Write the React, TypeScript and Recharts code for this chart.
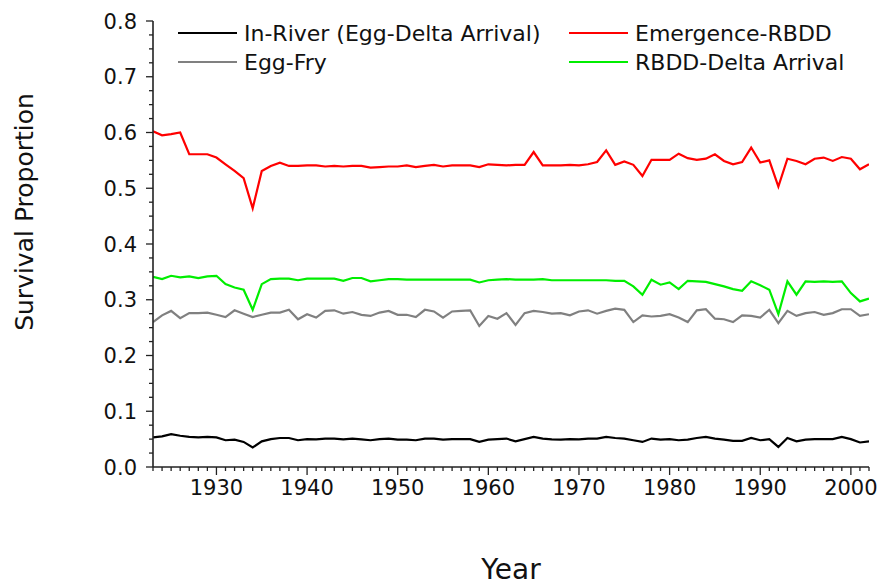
import React from 'react';
import { LineChart, Line, XAxis, YAxis, Legend } from 'recharts';

const YEARS = [
  1923, 1924, 1925, 1926, 1927, 1928, 1929, 1930, 1931, 1932,
  1933, 1934, 1935, 1936, 1937, 1938, 1939, 1940, 1941, 1942,
  1943, 1944, 1945, 1946, 1947, 1948, 1949, 1950, 1951, 1952,
  1953, 1954, 1955, 1956, 1957, 1958, 1959, 1960, 1961, 1962,
  1963, 1964, 1965, 1966, 1967, 1968, 1969, 1970, 1971, 1972,
  1973, 1974, 1975, 1976, 1977, 1978, 1979, 1980, 1981, 1982,
  1983, 1984, 1985, 1986, 1987, 1988, 1989, 1990, 1991, 1992,
  1993, 1994, 1995, 1996, 1997, 1998, 1999, 2000, 2001, 2002,
];

const IN_RIVER = [
  0.053, 0.055, 0.059, 0.056, 0.054, 0.053, 0.054, 0.053, 0.048, 0.049,
  0.045, 0.035, 0.046, 0.050, 0.052, 0.052, 0.048, 0.050, 0.0495, 0.051,
  0.051, 0.0495, 0.051, 0.0495, 0.048, 0.050, 0.051, 0.049, 0.049, 0.048,
  0.051, 0.051, 0.049, 0.050, 0.050, 0.050, 0.045, 0.049, 0.050, 0.051,
  0.046, 0.050, 0.054, 0.051, 0.0495, 0.049, 0.050, 0.0495, 0.051, 0.051,
  0.054, 0.052, 0.051, 0.048, 0.045, 0.051, 0.049, 0.050, 0.048, 0.049,
  0.052, 0.054, 0.051, 0.049, 0.047, 0.047, 0.052, 0.048, 0.050, 0.036,
  0.052, 0.046, 0.049, 0.050, 0.050, 0.050, 0.054, 0.050, 0.044, 0.046,
];

const EGG_FRY = [
  0.260, 0.272, 0.280, 0.267, 0.276, 0.276, 0.277, 0.273, 0.269, 0.281,
  0.275, 0.269, 0.273, 0.277, 0.277, 0.282, 0.265, 0.274, 0.268, 0.280,
  0.281, 0.275, 0.278, 0.273, 0.271, 0.277, 0.280, 0.273, 0.273, 0.269,
  0.282, 0.279, 0.268, 0.279, 0.280, 0.281, 0.253, 0.271, 0.266, 0.276,
  0.255, 0.276, 0.280, 0.278, 0.275, 0.276, 0.272, 0.279, 0.281, 0.275,
  0.280, 0.284, 0.282, 0.260, 0.272, 0.270, 0.271, 0.274, 0.268, 0.260,
  0.281, 0.283, 0.266, 0.265, 0.260, 0.272, 0.271, 0.268, 0.282, 0.258,
  0.280, 0.271, 0.276, 0.278, 0.273, 0.276, 0.283, 0.283, 0.271, 0.274,
];

const EMERGENCE_RBDD = [
  0.602, 0.595, 0.597, 0.600, 0.561, 0.561, 0.561, 0.555, 0.543, 0.531,
  0.518, 0.464, 0.531, 0.540, 0.546, 0.540, 0.540, 0.541, 0.541, 0.539,
  0.540, 0.539, 0.540, 0.540, 0.537, 0.538, 0.539, 0.539, 0.541, 0.538,
  0.540, 0.542, 0.539, 0.541, 0.541, 0.541, 0.538, 0.543, 0.542, 0.541,
  0.542, 0.542, 0.565, 0.541, 0.541, 0.541, 0.542, 0.541, 0.543, 0.547,
  0.568, 0.542, 0.548, 0.542, 0.522, 0.551, 0.551, 0.551, 0.562, 0.554,
  0.551, 0.553, 0.561, 0.549, 0.543, 0.547, 0.573, 0.546, 0.550, 0.503,
  0.553, 0.549, 0.543, 0.553, 0.555, 0.549, 0.556, 0.553, 0.534, 0.543,
];

const RBDD_DELTA = [
  0.341, 0.337, 0.343, 0.340, 0.342, 0.339, 0.342, 0.343, 0.328, 0.322,
  0.318, 0.282, 0.328, 0.337, 0.338, 0.338, 0.335, 0.338, 0.338, 0.338,
  0.338, 0.334, 0.339, 0.339, 0.333, 0.335, 0.337, 0.337, 0.336, 0.336,
  0.336, 0.336, 0.336, 0.336, 0.336, 0.336, 0.331, 0.335, 0.336, 0.337,
  0.336, 0.336, 0.336, 0.337, 0.335, 0.335, 0.335, 0.335, 0.335, 0.335,
  0.335, 0.334, 0.334, 0.324, 0.309, 0.336, 0.327, 0.331, 0.319, 0.334,
  0.333, 0.332, 0.328, 0.324, 0.319, 0.316, 0.333, 0.326, 0.318, 0.274,
  0.333, 0.309, 0.333, 0.332, 0.333, 0.332, 0.333, 0.312, 0.297, 0.302,
];

const X_LABELS = [1930, 1940, 1950, 1960, 1970, 1980, 1990, 2000];
const Y_LABELS = [0, 0.1, 0.2, 0.3, 0.4, 0.5, 0.6, 0.7, 0.8];
const Y_MINOR_STEP = 0.025;

const SERIES = [
  { key: 'inRiver', name: 'In-River (Egg-Delta Arrival)', color: '#000000', values: IN_RIVER },
  { key: 'eggFry', name: 'Egg-Fry', color: '#808080', values: EGG_FRY },
  { key: 'emergence', name: 'Emergence-RBDD', color: '#ff0000', values: EMERGENCE_RBDD },
  { key: 'rbddDelta', name: 'RBDD-Delta Arrival', color: '#00ee00', values: RBDD_DELTA },
];

const data = YEARS.map((year, i) => {
  const row: any = { year };
  SERIES.forEach((s) => {
    row[s.key] = s.values[i];
  });
  return row;
});

const yTicks: number[] = [];
for (let i = 0; i < Y_LABELS.length; i++) {
  yTicks.push(Y_LABELS[i]);
  if (i < Y_LABELS.length - 1) {
    for (let k = 1; k < 4; k++) {
      yTicks.push(Math.round((Y_LABELS[i] + k * Y_MINOR_STEP) * 1000) / 1000);
    }
  }
}

const FONT = '"DejaVu Sans", "Liberation Sans", Arial, sans-serif';
const AXIS_COLOR = '#222';
const TEXT_COLOR = '#111';

const XTick = (props: any) => {
  const { x, y, payload } = props;
  const v = payload.value;
  const major = X_LABELS.includes(v);
  return (
    <g>
      <line x1={x} x2={x} y1={y} y2={y + (major ? 8 : 4)} stroke={AXIS_COLOR} strokeWidth={1.3} />
      {major && (
        <text x={x} y={y + 28} textAnchor="middle" fontFamily={FONT} fontSize={21} fill={TEXT_COLOR}>
          {v}
        </text>
      )}
    </g>
  );
};

const YTick = (props: any) => {
  const { x, y, payload } = props;
  const v = payload.value;
  const major = Y_LABELS.some((l) => Math.abs(l - v) < 1e-6);
  return (
    <g>
      <line x1={x - (major ? 7 : 4)} x2={x} y1={y} y2={y} stroke={AXIS_COLOR} strokeWidth={1.3} />
      {major && (
        <text x={x - 16} y={y} dy="0.36em" textAnchor="end" fontFamily={FONT} fontSize={21} fill={TEXT_COLOR}>
          {v.toFixed(1)}
        </text>
      )}
    </g>
  );
};

const YTitle = () => (
  <text
    x={33}
    y={212}
    transform="rotate(-90 33 212)"
    textAnchor="middle"
    fontFamily={FONT}
    fontSize={25}
    fill={TEXT_COLOR}
  >
    Survival Proportion
  </text>
);

const XTitle = () => (
  <text x={511} y={579} textAnchor="middle" fontFamily={FONT} fontSize={28} fill={TEXT_COLOR}>
    Year
  </text>
);

const LEGEND_POS = [
  { lx: 178, tx: 244, y: 33 },
  { lx: 178, tx: 244, y: 62 },
  { lx: 569, tx: 635, y: 33 },
  { lx: 569, tx: 635, y: 62 },
];

const renderLegend = () => (
  <svg width={884} height={80} style={{ display: 'block' }}>
    {SERIES.map((s, i) => {
      const p = LEGEND_POS[i];
      return (
        <g key={s.key}>
          <line x1={p.lx} x2={p.lx + 59} y1={p.y} y2={p.y} stroke={s.color} strokeWidth={2.2} />
          <text x={p.tx} y={p.y} dy="0.36em" fontFamily={FONT} fontSize={22} fill={TEXT_COLOR}>
            {s.name}
          </text>
        </g>
      );
    })}
  </svg>
);

export default function App() {
  return (
    <div style={{ position: 'absolute', left: 0, top: 0, width: 884, height: 588, background: '#fff' }}>
      <LineChart width={884} height={588} data={data} margin={{ top: 21, right: 15, bottom: 61, left: 93 }}>
        <XAxis
          dataKey="year"
          type="number"
          domain={[1923, 2002]}
          ticks={YEARS}
          interval={0}
          tickSize={0}
          tickMargin={0}
          tickLine={false}
          tick={<XTick />}
          height={60}
          axisLine={{ stroke: AXIS_COLOR, strokeWidth: 1.6 }}
          label={<XTitle />}
          allowDataOverflow
        />
        <YAxis
          type="number"
          domain={[0, 0.8]}
          ticks={yTicks}
          interval={0}
          tickSize={0}
          tickMargin={0}
          tickLine={false}
          tick={<YTick />}
          width={60}
          axisLine={{ stroke: AXIS_COLOR, strokeWidth: 1.6 }}
          label={<YTitle />}
          allowDataOverflow
        />
        <Legend
          layout="horizontal"
          verticalAlign="middle"
          align="center"
          wrapperStyle={{ left: 0, top: 0, width: 884, height: 80 }}
          content={renderLegend}
        />
        {SERIES.map((s) => (
          <Line
            key={s.key}
            type="linear"
            dataKey={s.key}
            name={s.name}
            stroke={s.color}
            strokeWidth={2.2}
            dot={false}
            activeDot={false}
            isAnimationActive={false}
          />
        ))}
      </LineChart>
    </div>
  );
}
